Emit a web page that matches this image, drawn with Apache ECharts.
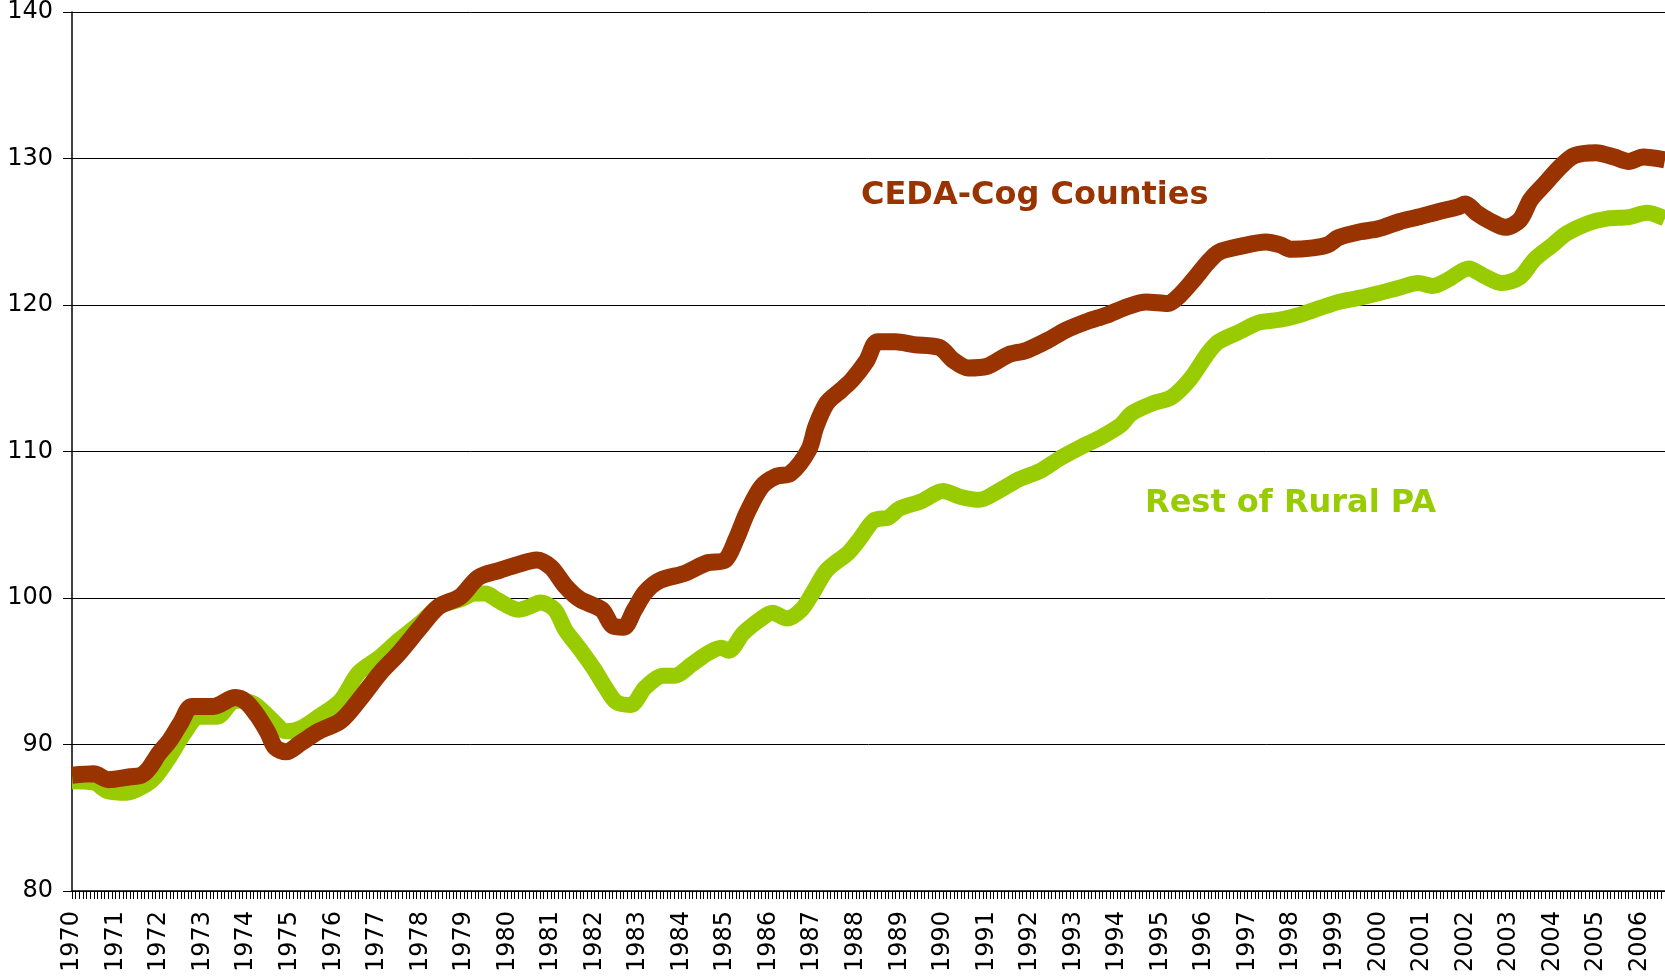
<!DOCTYPE html>
<html>
<head>
<meta charset="utf-8">
<title>CEDA-Cog Counties vs Rest of Rural PA</title>
<script src="https://cdn.jsdelivr.net/npm/echarts@6/dist/echarts.min.js"></script>
<style>
  html, body { margin: 0; padding: 0; background: #fff; }
  #chart { width: 1665px; height: 977px; }
</style>
</head>
<body>
<div id="chart"></div>
<script>
// monthly categories, Jan 1970 .. Aug 2006 (labels shown every January)
const firstYear = 1970;
const lastYear = 2006;
const lastMonth = 8;
const months = [];
for (let y = firstYear; y <= lastYear; y++) {
  for (let m = 1; m <= 12; m++) {
    if (y === lastYear && m > lastMonth) break;
    months.push(y + "-" + String(m).padStart(2, "0"));
  }
}

// y axis
const yMin = 80, yMax = 140, yStep = 10;

// CEDA-Cog Counties
const cedaDates = [
  "1970-01","1970-07","1970-11","1971-05","1971-08","1971-10","1972-01","1972-04","1972-07","1972-10",
  "1973-04","1973-10","1974-01","1974-04","1974-07","1974-09","1974-12","1975-04","1975-09","1976-03",
  "1976-08","1977-02","1977-07","1978-01","1978-06","1978-12","1979-05","1979-11","1980-04","1980-09",
  "1981-01","1981-05","1981-09","1982-03","1982-06","1982-09","1982-12","1983-03","1983-07","1984-02",
  "1984-08","1985-01","1985-04","1985-07","1985-11","1986-03","1986-07","1986-12","1987-02","1987-05",
  "1987-09","1987-12","1988-04","1988-07","1988-12","1989-05","1989-12","1990-04","1990-08","1991-01",
  "1991-07","1991-12","1992-06","1992-11","1993-05","1993-10","1994-04","1994-09","1995-03","1995-06",
  "1995-10","1996-02","1996-05","1996-11","1997-06","1997-10","1998-01","1998-07","1998-11","1999-02",
  "1999-08","2000-01","2000-07","2000-12","2001-06","2001-11","2002-01","2002-04","2002-08","2002-12",
  "2003-04","2003-07","2003-11","2004-03","2004-07","2005-01","2005-06","2005-10","2006-02","2006-08"
];
const cedaValues = [
  87.9, 88.0, 87.6, 87.8, 87.9, 88.3, 89.4, 90.3, 91.5, 92.6,
  92.6, 93.2, 92.9, 92.0, 90.8, 89.8, 89.5, 90.1, 90.9, 91.6,
  93.0, 94.9, 96.2, 98.0, 99.4, 100.1, 101.4, 101.9, 102.3, 102.6,
  102.1, 100.8, 99.9, 99.2, 98.1, 98.0, 99.2, 100.4, 101.2, 101.7,
  102.4, 102.6, 104.0, 105.8, 107.6, 108.3, 108.5, 110.1, 111.7, 113.3,
  114.2, 114.9, 116.2, 117.5, 117.5, 117.3, 117.1, 116.2, 115.7, 115.8,
  116.6, 116.9, 117.6, 118.3, 118.9, 119.3, 119.9, 120.2, 120.1, 120.6,
  121.7, 122.9, 123.6, 124.0, 124.3, 124.1, 123.8, 123.9, 124.1, 124.6,
  125.0, 125.2, 125.7, 126.0, 126.4, 126.7, 126.9, 126.3, 125.7, 125.3,
  125.8, 127.2, 128.3, 129.4, 130.2, 130.4, 130.1, 129.8, 130.1, 129.9
];

// Rest of Rural PA
const ruralDates = [
  "1970-01","1970-07","1970-11","1971-04","1971-09","1971-12","1972-04","1972-08","1972-12","1973-05",
  "1973-10","1974-03","1974-08","1974-12","1975-04","1975-09","1976-03","1976-08","1977-02","1977-07",
  "1978-01","1978-06","1978-12","1979-04","1979-07","1979-10","1980-04","1980-07","1980-10","1981-02",
  "1981-05","1981-09","1982-01","1982-04","1982-07","1982-11","1983-03","1983-08","1983-11","1984-04",
  "1984-08","1984-12","1985-02","1985-06","1985-11","1986-02","1986-06","1986-10","1987-01","1987-05",
  "1987-11","1988-02","1988-06","1988-10","1989-01","1989-07","1990-01","1990-06","1990-11","1991-05",
  "1991-10","1992-04","1992-09","1993-03","1993-08","1994-02","1994-05","1994-11","1995-04","1995-09",
  "1996-02","1996-05","1996-11","1997-04","1997-10","1998-03","1998-09","1999-02","1999-08","2000-01",
  "2000-07","2000-12","2001-04","2001-08","2002-02","2002-06","2002-11","2003-04","2003-08","2004-01",
  "2004-05","2004-11","2005-04","2005-10","2006-03","2006-08"
];
const ruralValues = [
  87.5, 87.4, 86.8, 86.7, 87.2, 87.8, 89.2, 90.8, 91.9, 91.9,
  93.0, 92.8, 91.7, 90.9, 91.1, 91.9, 93.0, 94.9, 96.0, 97.1,
  98.3, 99.4, 99.9, 100.3, 100.3, 99.9, 99.2, 99.4, 99.7, 99.2,
  97.8, 96.5, 95.1, 93.9, 92.9, 92.7, 93.9, 94.7, 94.7, 95.5,
  96.2, 96.6, 96.4, 97.6, 98.6, 99.0, 98.6, 99.2, 100.3, 101.9,
  103.1, 104.0, 105.3, 105.5, 106.1, 106.6, 107.3, 106.9, 106.7, 107.4,
  108.1, 108.7, 109.5, 110.3, 110.9, 111.8, 112.6, 113.3, 113.7, 114.9,
  116.7, 117.5, 118.2, 118.8, 119.0, 119.3, 119.8, 120.2, 120.5, 120.8,
  121.2, 121.5, 121.3, 121.7, 122.5, 122.0, 121.5, 121.9, 123.1, 124.1,
  124.9, 125.6, 125.9, 126.0, 126.3, 125.9
];

const cedaColor = "#993300";
const ruralColor = "#99cc00";
const fontAxis = "'DejaVu Sans', Verdana, sans-serif";

const pairs = (dates, vals) => dates.map((d, i) => [d, vals[i]]);

const chart = echarts.init(document.getElementById("chart"), null, { renderer: "canvas" });
chart.setOption({
  animation: false,
  backgroundColor: "#fff",
  grid: { left: 72, right: 0, top: 12, bottom: 86, containLabel: false },
  xAxis: {
    type: "category",
    data: months,
    boundaryGap: false,
    axisLine: { lineStyle: { color: "#000", width: 1.5 } },
    axisTick: { show: true, interval: 0, length: 8, lineStyle: { color: "#000", width: 1 } },
    axisLabel: {
      interval: (i) => i % 12 === 0,
      formatter: (v) => v.slice(0, 4),
      rotate: 90,
      margin: 20,
      color: "#000",
      fontFamily: fontAxis,
      fontSize: 24
    },
    splitLine: { show: false }
  },
  yAxis: {
    type: "value",
    min: yMin,
    max: yMax,
    interval: yStep,
    axisLine: { show: true, lineStyle: { color: "#000", width: 1.5 } },
    axisTick: { show: true, length: 9, lineStyle: { color: "#000" } },
    axisLabel: { margin: 19, color: "#000", fontFamily: fontAxis, fontSize: 24 },
    splitLine: { show: true, lineStyle: { color: "#000", width: 1 } }
  },
  series: [
    {
      name: "Rest of Rural PA",
      type: "line",
      data: pairs(ruralDates, ruralValues),
      showSymbol: false,
      smooth: 0.3,
      lineStyle: { color: ruralColor, width: 16, join: "round", cap: "butt" },
      z: 2
    },
    {
      name: "CEDA-Cog Counties",
      type: "line",
      data: pairs(cedaDates, cedaValues),
      showSymbol: false,
      smooth: 0.3,
      lineStyle: { color: cedaColor, width: 17, join: "round", cap: "butt" },
      z: 3
    }
  ],
  graphic: [
    {
      type: "text",
      x: 861, y: 196,
      style: {
        text: "CEDA-Cog Counties",
        fill: cedaColor,
        font: "bold 32px 'DejaVu Sans', Verdana, sans-serif",
        textAlign: "left",
        textVerticalAlign: "middle"
      }
    },
    {
      type: "text",
      x: 1145, y: 504,
      style: {
        text: "Rest of Rural PA",
        fill: ruralColor,
        font: "bold 32px 'DejaVu Sans', Verdana, sans-serif",
        textAlign: "left",
        textVerticalAlign: "middle"
      }
    }
  ]
});
</script>
</body>
</html>
